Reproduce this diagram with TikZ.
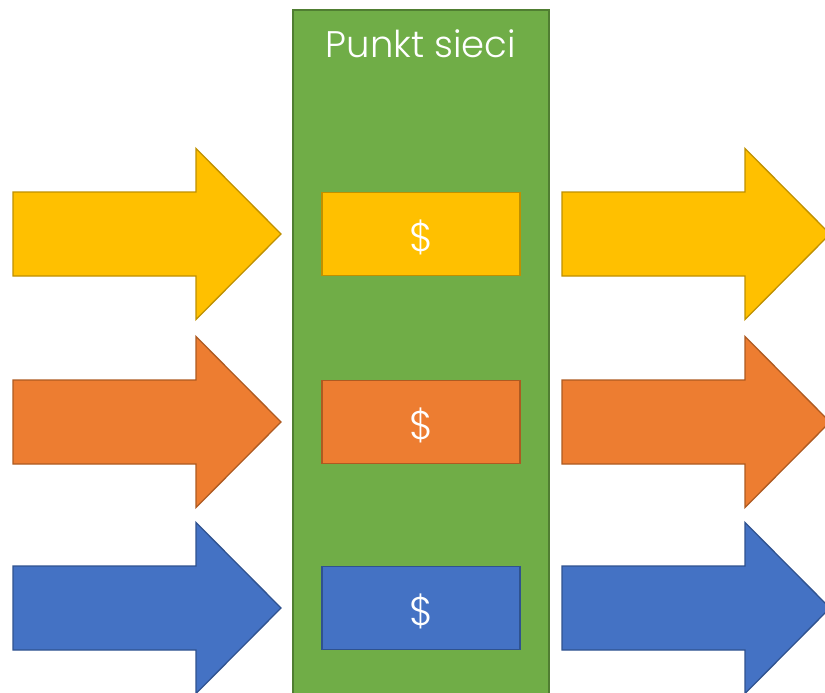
\documentclass[tikz,border=0pt]{standalone}
\usepackage{fontspec}
\setmainfont{Poppins}[UprightFont=* Light]
\definecolor{netgreen}{HTML}{70AD47}
\definecolor{netgreenline}{HTML}{507E32}
\definecolor{flowyellow}{HTML}{FFC000}
\definecolor{flowyellowline}{HTML}{BF9000}
\definecolor{floworange}{HTML}{ED7D31}
\definecolor{floworangeline}{HTML}{AE5A21}
\definecolor{flowblue}{HTML}{4472C4}
\definecolor{flowblueline}{HTML}{2F528F}
\tikzset{
  x=1pt, y=-1pt,
  hub/.style={fill=netgreen, draw=netgreenline, line width=1.5pt},
  flowarrow/.style={line width=1.3pt, line join=miter},
  pricebox/.style={draw, line width=1.5pt, minimum width=198pt, minimum height=83pt,
    inner sep=0pt},
  pricesign/.style={text=white, font=\fontsize{40}{46}\selectfont, inner sep=0pt},
  hubtitle/.style={text=white, font=\fontsize{37}{44}\selectfont, inner sep=0pt}
}
% block arrow: #1 = left x, #2 = centre y, #3 = colours
\newcommand{\blockarrow}[3]{%
  \draw[flowarrow, #3] (#1,#2-42) -- ++(183,0) -- ++(0,-43.5) -- ++(85,85.5)
    -- ++(-85,85.5) -- ++(0,-43.5) -- ++(-183,0) -- cycle;}
\begin{document}
\begin{tikzpicture}
\useasboundingbox (0,0) rectangle (825,693);
\clip (0,0) rectangle (825,693);
% network point
\draw[hub] (293,10) rectangle (549,710);
\node[hubtitle] (title) at (421,44) {Punkt sieci};
% incoming flows
\blockarrow{13}{234}{fill=flowyellow, draw=flowyellowline}
\blockarrow{13}{422}{fill=floworange, draw=floworangeline}
\blockarrow{13}{608}{fill=flowblue, draw=flowblueline}
% outgoing flows
\blockarrow{562}{234}{fill=flowyellow, draw=flowyellowline}
\blockarrow{562}{422}{fill=floworange, draw=floworangeline}
\blockarrow{562}{608}{fill=flowblue, draw=flowblueline}
% prices at the node
\node[pricebox, fill=flowyellow, draw=flowyellowline] (p1) at (421,234) {};
\node[pricebox, fill=floworange, draw=floworangeline] (p2) at (421,422) {};
\node[pricebox, fill=flowblue, draw=flowblueline] (p3) at (421,608) {};
\node[pricesign] (s1) at ([yshift=-3pt]p1.center) {\$};
\node[pricesign] (s2) at ([yshift=-3pt]p2.center) {\$};
\node[pricesign] (s3) at ([yshift=-3pt]p3.center) {\$};
\end{tikzpicture}
\end{document}
